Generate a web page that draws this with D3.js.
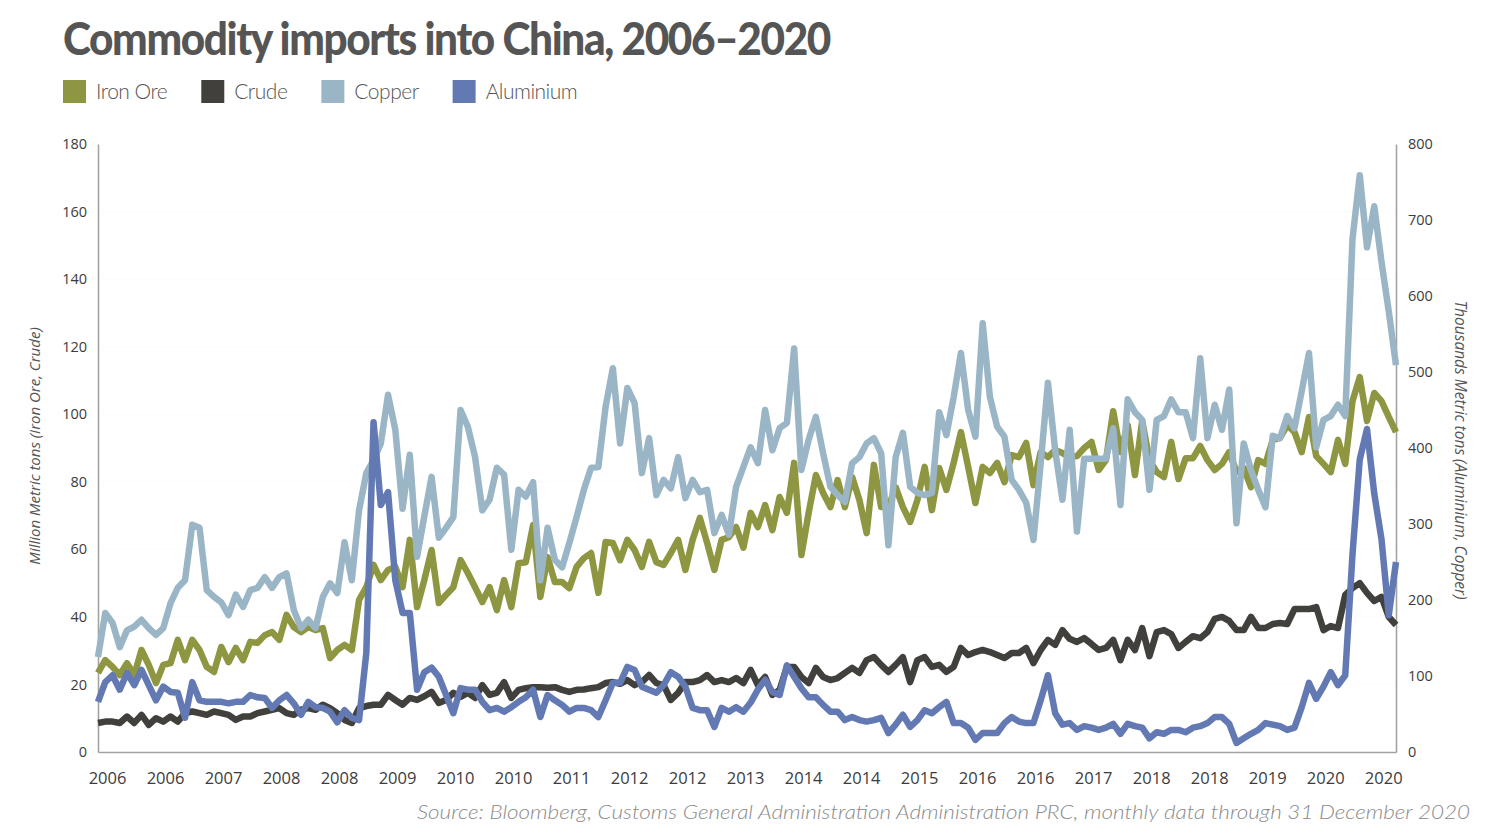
<!DOCTYPE html>
<html>
<head>
<meta charset="utf-8">
<script src="https://cdn.jsdelivr.net/npm/d3@7"></script>
<style>
  html, body { margin: 0; padding: 0; background: #ffffff; }
  svg { display: block; }
</style>
</head>
<body>
<svg id="chart" width="1500" height="840"></svg>
<script>
// ---------------- DATA ----------------
const months = d3.timeMonth.range(new Date(2006, 0, 1), new Date(2021, 0, 1)); // 180 monthly categories

const xTickLabels = ["2006","2006","2007","2008","2008","2009","2010","2010","2011","2012","2012",
                     "2013","2014","2014","2015","2016","2016","2017","2018","2018","2019","2020","2020"];
const leftTicks = [0, 20, 40, 60, 80, 100, 120, 140, 160, 180];
const rightTicks = [0, 100, 200, 300, 400, 500, 600, 700, 800];

const seriesNames = ["Iron Ore", "Crude", "Copper", "Aluminium"];

// Million metric tons (left axis)
const ironOre = [
  23.4,27.2,25.2,22.8,26.3,22.8,30.2,25.8,20.4,25.8,26.3,33.2,
  27.2,33.2,30.2,25.2,23.7,31.1,26.6,30.8,27.2,32.6,32.3,34.6,
  35.5,33.2,40.6,37.0,35.5,37.0,36.1,36.7,27.8,30.2,31.7,30.2,
  45.0,48.8,55.4,50.9,53.9,54.8,48.8,62.8,42.9,50.9,59.8,44.1,
  46.5,48.8,56.8,53.0,48.8,44.4,48.8,42.0,50.9,42.9,55.9,56.2,
  67.2,45.9,57.7,50.3,50.3,48.5,54.8,57.4,58.9,47.1,62.2,61.9,
  56.8,62.8,59.8,54.8,62.2,56.2,55.4,58.9,62.8,53.9,62.8,69.3,
  61.9,53.9,62.8,63.6,66.6,60.5,70.8,66.6,73.1,65.7,75.5,70.8,
  85.6,58.3,70.8,82.0,76.7,72.5,80.5,72.5,81.4,74.6,64.8,85.0,
  72.5,72.5,78.4,72.5,68.1,74.6,84.4,71.6,84.1,77.6,85.6,94.7,
  84.4,73.7,84.4,82.6,85.6,79.9,87.9,87.3,91.5,79.0,88.8,87.3,
  89.4,88.5,87.3,87.6,90.0,91.8,83.5,86.4,100.9,88.8,96.8,82.0,
  98.0,86.4,82.9,81.4,91.8,80.8,87.0,87.0,90.6,86.4,83.5,85.3,
  88.8,82.9,84.1,78.4,86.4,85.3,92.4,93.0,96.8,94.7,88.8,99.2,
  87.6,85.3,82.9,92.4,85.3,103.9,111.0,98.0,106.3,103.9,99.2,94.7
];

const crude = [
  8.6,9.0,9.0,8.6,10.5,8.6,11.0,8.0,10.0,9.0,10.5,9.0,
  11.5,12.0,11.5,11.0,12.0,11.5,11.0,9.5,10.5,10.5,11.5,12.0,
  12.5,13.0,11.5,11.0,12.5,13.0,12.5,14.0,13.0,11.5,9.5,8.6,
  13.0,13.6,14.0,14.0,16.9,15.4,14.0,16.0,15.4,16.5,17.8,14.5,
  15.4,17.5,16.3,17.5,16.0,19.8,16.9,17.5,20.7,16.0,18.4,18.9,
  19.2,19.2,19.0,19.2,18.4,17.8,18.4,18.5,18.9,19.2,20.4,20.7,
  20.2,21.3,19.8,20.7,22.8,20.4,19.8,15.4,17.5,20.7,20.7,21.3,
  22.8,20.7,21.3,20.7,21.9,20.4,24.3,19.8,22.2,16.9,18.4,25.2,
  25.2,22.2,20.4,24.9,22.2,21.3,21.9,23.4,24.9,23.4,27.2,28.1,
  25.8,23.7,25.8,28.1,20.7,27.2,28.1,25.2,25.8,23.7,25.2,30.8,
  28.7,29.6,30.2,29.6,28.7,27.8,29.3,29.3,30.8,26.3,30.2,33.2,
  31.7,36.1,33.5,32.6,33.7,32.0,30.2,30.8,33.2,27.2,33.2,30.2,
  36.7,28.4,35.5,36.1,34.9,30.8,32.6,34.3,33.7,35.5,39.4,40.0,
  38.8,36.1,36.1,40.0,36.7,36.7,37.9,38.2,37.9,42.3,42.3,42.3,
  42.9,36.1,37.3,36.7,46.5,48.5,50.0,47.1,44.7,45.9,40.0,37.6
];

// Thousand metric tons (right axis)
const copper = [
  125,183,170,138,160,165,174,163,154,163,196,216,
  226,299,295,213,204,197,180,207,191,213,216,230,
  216,230,235,187,163,174,163,204,222,209,276,226,
  318,367,384,406,470,424,320,391,257,310,362,282,
  295,309,450,428,388,318,332,374,365,266,345,336,
  355,226,295,253,243,275,309,345,374,375,454,505,
  406,479,459,367,413,338,358,347,388,334,358,342,
  345,288,312,286,349,375,401,380,450,397,426,433,
  531,371,411,441,393,349,338,329,380,388,406,413,
  393,272,388,420,349,341,338,341,447,417,467,525,
  450,415,564,467,428,415,358,345,328,279,380,486,
  397,332,424,290,386,386,386,386,426,325,464,447,
  437,345,437,442,464,447,447,413,518,413,457,424,
  477,301,406,371,345,322,416,413,442,426,475,525,
  401,437,442,457,442,675,759,664,718,645,580,509
];

const aluminium = [
  66,92,101,82,104,88,108,88,68,86,79,78,
  45,92,68,66,66,66,64,66,66,75,72,71,
  58,68,75,64,49,66,59,58,53,39,55,45,
  42,130,434,325,342,226,183,183,82,105,111,99,
  75,51,84,82,82,66,55,58,53,59,66,72,
  82,46,75,68,62,53,58,58,55,46,68,91,
  91,112,108,86,82,78,88,105,99,86,58,55,
  55,33,58,53,59,53,65,82,95,79,75,114,
  99,84,72,72,62,53,53,42,46,42,40,42,
  45,25,36,49,33,42,55,51,59,66,38,38,
  32,16,25,25,25,38,46,40,38,38,68,101,
  51,36,38,29,34,32,29,32,37,24,37,34,
  32,18,26,24,29,29,26,32,34,38,46,46,
  37,12,18,24,29,38,36,34,29,32,59,91,
  70,86,105,88,101,260,385,425,340,280,180,250
];

// ---------------- STYLE / LAYOUT ----------------
const colors = { "Iron Ore": "#8f9641", "Crude": "#41403c", "Copper": "#9ab6c6", "Aluminium": "#6279b3" };
const plot = { left: 98, right: 1396, top: 144, bottom: 752 };
const axisColor = "#a3a3a3";
const tickFont = "'Open Sans', 'DejaVu Sans', sans-serif";
const textFont = "Lato, 'Open Sans', sans-serif";

const svg = d3.select("#chart");
svg.append("rect").attr("width", 1500).attr("height", 840).attr("fill", "#ffffff");

// ---------------- SCALES ----------------
const x = d3.scaleLinear().domain([0, months.length - 1]).range([plot.left, plot.right]);
const yL = d3.scaleLinear().domain([0, 180]).range([plot.bottom, plot.top]);
const yR = d3.scaleLinear().domain([0, 800]).range([plot.bottom, plot.top]);

// faint gridlines
svg.append("g").selectAll("line").data(leftTicks.filter(d => d > 0)).join("line")
  .attr("x1", plot.left).attr("x2", plot.right)
  .attr("y1", d => yL(d)).attr("y2", d => yL(d))
  .attr("stroke", "#f0f0f0").attr("stroke-width", 1).attr("stroke-dasharray", "1,3");

// ---------------- AXES ----------------
const gL = svg.append("g").attr("transform", `translate(${plot.left},0)`)
  .call(d3.axisLeft(yL).tickValues(leftTicks).tickSize(0).tickSizeOuter(0).tickPadding(11));
const gR = svg.append("g").attr("transform", `translate(${plot.right},0)`)
  .call(d3.axisRight(yR).tickValues(rightTicks).tickSize(0).tickSizeOuter(0).tickPadding(12));
const xTickIdx = d3.range(0, months.length, 8);
const gB = svg.append("g").attr("transform", `translate(0,${plot.bottom})`)
  .call(d3.axisBottom(x).tickValues(xTickIdx).tickFormat((d, i) => xTickLabels[i])
        .tickSize(0).tickSizeOuter(0).tickPadding(20));

[gL, gR, gB].forEach(g => {
  g.select(".domain").attr("stroke", axisColor).attr("stroke-width", 1.6);
  g.selectAll("text").attr("font-family", tickFont).attr("fill", "#3c3c3c");
});
gL.selectAll("text").attr("font-size", 14.5);
gR.selectAll("text").attr("font-size", 14.5);
gB.selectAll("text").attr("font-size", 16.5).attr("dx", 9);

// ---------------- LINES ----------------
const seriesData = [
  { name: "Iron Ore", values: ironOre, y: yL },
  { name: "Crude", values: crude, y: yL },
  { name: "Copper", values: copper, y: yR },
  { name: "Aluminium", values: aluminium, y: yR }
];

const linesG = svg.append("g");
seriesData.forEach(s => {
  const line = d3.line().x((d, i) => x(i)).y(d => s.y(d)).curve(d3.curveLinear);
  linesG.append("path")
    .datum(s.values)
    .attr("d", line)
    .attr("fill", "none")
    .attr("stroke", colors[s.name])
    .attr("stroke-width", 6.5)
    .attr("stroke-linejoin", "round")
    .attr("stroke-linecap", "butt");
});

// ---------------- TITLE ----------------
svg.append("text")
  .attr("x", 63).attr("y", 55)
  .attr("font-family", textFont).attr("font-weight", 900).attr("font-size", 46)
  .attr("letter-spacing", -1.5)
  .attr("fill", "#555555")
  .attr("textLength", 767).attr("lengthAdjust", "spacingAndGlyphs")
  .text("Commodity imports into China, 2006\u20132020");

// ---------------- LEGEND ----------------
let lx = 63;
seriesNames.forEach(name => {
  svg.append("rect").attr("x", lx).attr("y", 80).attr("width", 23).attr("height", 23)
    .attr("fill", colors[name]);
  const t = svg.append("text").attr("x", lx + 33).attr("y", 99)
    .attr("font-family", textFont).attr("font-weight", 300).attr("font-size", 21)
    .attr("letter-spacing", -0.5).attr("fill", "#555555").text(name);
  lx = lx + 33 + t.node().getComputedTextLength() + 34;
});

// ---------------- AXIS TITLES ----------------
svg.append("text")
  .attr("transform", "translate(40,446) rotate(-90)")
  .attr("text-anchor", "middle")
  .attr("font-family", tickFont).attr("font-style", "italic").attr("font-size", 15)
  .attr("fill", "#555555")
  .text("Million Metric tons (Iron Ore, Crude)");

svg.append("text")
  .attr("transform", "translate(1455,450) rotate(90)")
  .attr("text-anchor", "middle")
  .attr("font-family", tickFont).attr("font-style", "italic").attr("font-size", 15.5)
  .attr("fill", "#555555")
  .text("Thousands Metric tons (Aluminium, Copper)");

// ---------------- SOURCE ----------------
svg.append("text")
  .attr("x", 1470).attr("y", 819)
  .attr("text-anchor", "end")
  .attr("font-family", textFont).attr("font-style", "italic").attr("font-weight", 300)
  .attr("font-size", 20).attr("fill", "#8a8a8a")
  .attr("textLength", 1053).attr("lengthAdjust", "spacingAndGlyphs")
  .text("Source: Bloomberg, Customs General Administration Administration PRC, monthly data through 31 December 2020");
</script>
</body>
</html>
